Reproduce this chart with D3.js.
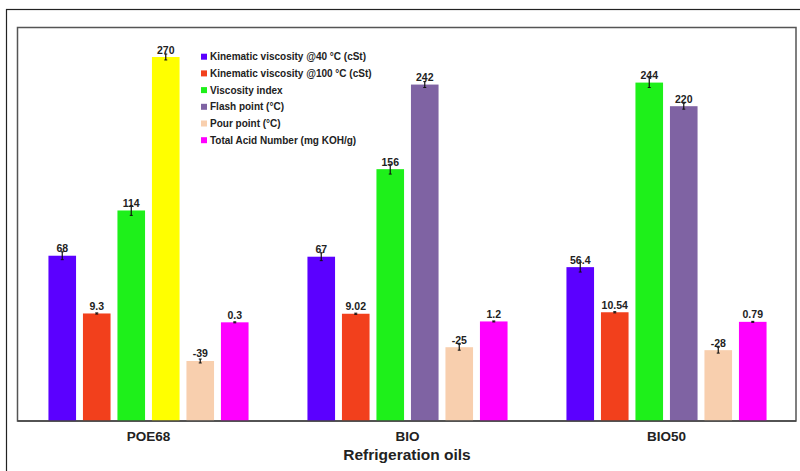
<!DOCTYPE html>
<html><head><meta charset="utf-8">
<script src="https://cdn.jsdelivr.net/npm/d3@7"></script>
<style>html,body{margin:0;padding:0;background:#fff;}svg{display:block;}</style>
</head><body><svg id="c" width="800" height="471"></svg>
<script>
const categories = ["POE68", "BIO", "BIO50"];
const seriesNames = ["Kinematic viscosity @40 °C (cSt)", "Kinematic viscosity @100 °C (cSt)", "Viscosity index", "Flash point (°C)", "Pour point (°C)", "Total Acid Number (mg KOH/g)"];
const kv40 = [68, 67, 56.4];
const kv100 = [9.3, 9.02, 10.54];
const viscIndex = [114, 156, 244];
const flashPoint = [270, 242, 220];
const pourPoint = [-39, -25, -28];
const tan = [0.3, 1.2, 0.79];
const labels = [["68","67","56.4"],["9.3","9.02","10.54"],["114","156","244"],["270","242","220"],["-39","-25","-28"],["0.3","1.2","0.79"]];
const errors = [[4,4,5],[0.6,0.6,0.6],[5,5,5],[3,3,3],[2,3,3],[0.5,0.5,0.5]];
const seriesColors = ["#5b00ff", "#f2401c", "#1ef01a", "#7f63a3", "#f8cfae", "#ff00ff"];
const pointColors = [[null,null,null],[null,null,null],[null,null,null],["#ffff00",null,null],[null,null,null],[null,null,null]];
const series = [kv40, kv100, viscIndex, flashPoint, pourPoint, tan];

const svg = d3.select("#c");
svg.append("rect").attr("x",6.5).attr("y",9.5).attr("width",800).attr("height",470)
  .attr("fill","none").attr("stroke","#222").attr("stroke-width",1.2);
const L=17.5, T=27.5, R=796, B=421;
svg.append("rect").attr("x",L).attr("y",T).attr("width",R-L).attr("height",B-T)
  .attr("fill","#fff").attr("stroke","#555").attr("stroke-width",1.5);

const x0 = d3.scaleBand().domain(categories).range([19,796]).padding(0);
const y = d3.scaleLinear().domain([-100,300]).range([B,T]);
const x1 = d3.scaleBand().domain(d3.range(6)).range([-103.5,103.5]).paddingInner(0.2).paddingOuter(0.1);

const g = svg.append("g");
categories.forEach((c,ci)=>{
  const cx = x0(c)+x0.bandwidth()/2;
  series.forEach((s,si)=>{
    const v=s[ci];
    const bx = cx + x1(si);
    const col = pointColors[si][ci] || seriesColors[si];
    g.append("rect").attr("x",bx).attr("y",y(v)).attr("width",x1.bandwidth()).attr("height",y(-100)-y(v))
      .attr("fill",col);
    const mx = bx + x1.bandwidth()/2, e=errors[si][ci];
    g.append("line").attr("x1",mx).attr("x2",mx).attr("y1",y(v+e)).attr("y2",y(v-e)).attr("stroke","#111").attr("stroke-width",1.2);
    [v+e,v-e].forEach(t=>g.append("line").attr("x1",mx-1.5).attr("x2",mx+1.5).attr("y1",y(t)).attr("y2",y(t)).attr("stroke","#111").attr("stroke-width",1));
    g.append("text").attr("x",mx).attr("y",y(v)-3.5).attr("text-anchor","middle")
      .attr("font-family","Liberation Sans, Arial, sans-serif").attr("font-weight","bold").attr("font-size",10.5)
      .attr("fill","#222").text(labels[si][ci]);
  });
});
svg.append("line").attr("x1",L).attr("x2",R).attr("y1",B).attr("y2",B).attr("stroke","#444").attr("stroke-width",1.5);
const xa = svg.append("g").attr("transform",`translate(0,${B})`).call(d3.axisBottom(x0).tickSize(0).tickPadding(10));
xa.select(".domain").remove();
xa.selectAll("text").attr("font-family","Liberation Sans, Arial, sans-serif").attr("font-size",13.5).attr("font-weight","600").attr("fill","#222");
svg.append("text").attr("x",407).attr("y",460).attr("text-anchor","middle")
  .attr("font-family","Liberation Sans, Arial, sans-serif").attr("font-weight","bold").attr("font-size",15.5).attr("fill","#222")
  .text("Refrigeration oils");
const lg = svg.append("g").attr("transform","translate(201,56.7)");
seriesNames.forEach((n,i)=>{
  const row = lg.append("g").attr("transform",`translate(0,${i*16.7})`);
  row.append("rect").attr("x",0).attr("y",-3).attr("width",6).attr("height",6).attr("fill",seriesColors[i]);
  row.append("text").attr("x",9).attr("y",3.6).attr("font-family","Liberation Sans, Arial, sans-serif")
    .attr("font-weight","bold").attr("font-size",10).attr("fill","#222").text(n);
});
</script></body></html>
